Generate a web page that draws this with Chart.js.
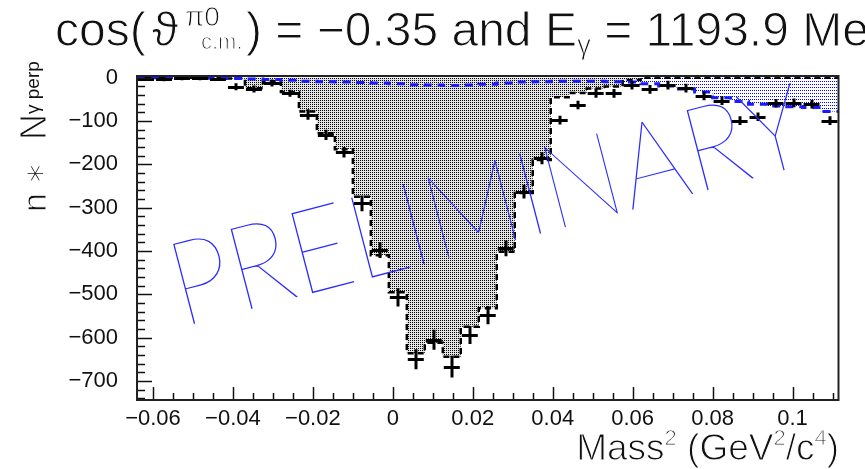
<!DOCTYPE html>
<html>
<head>
<meta charset="utf-8">
<script src="https://cdn.jsdelivr.net/npm/chart.js@4.4.1/dist/chart.umd.min.js"></script>
<style>
  html, body { margin: 0; padding: 0; background: #fff; }
  #massChart { display: block; }
</style>
</head>
<body>
<canvas id="massChart" width="865" height="469"></canvas>
<script>
// missing mass^2 bins (GeV^2/c^4), centres, width 0.0045
const BIN_W = 0.0045;
const massBins = [
  -0.06175, -0.05725, -0.05275, -0.04825, -0.04375, -0.03925, -0.03475, -0.03025,
  -0.02575, -0.02125, -0.01675, -0.01225, -0.00775, -0.00325, 0.00125, 0.00575,
  0.01025, 0.01475, 0.01925, 0.02375, 0.02825, 0.03275, 0.03725, 0.04175,
  0.04625, 0.05075, 0.05525, 0.05975, 0.06425, 0.06875, 0.07325, 0.07775,
  0.08225, 0.08675, 0.09125, 0.09575, 0.10025, 0.10475, 0.10925
];
// measured n * N_perp with errors
const dataYield = [
  -2, -3, -1, -1, -2, -21, -26, -12,
  -36, -85, -132, -172, -290, -398, -507, -650,
  -605, -667, -594, -548, -394, -263, -186, -98,
  -63, -36, -36, -17, -27, -17, -24, -42,
  -53, -99, -90, -59, -58, -61, -99
];
const dataErr = [
  5, 5, 5, 5, 5, 8, 8, 8,
  8, 12, 12, 12, 18, 18, 21, 23,
  23, 25, 21, 21, 18, 16, 14, 10,
  10, 10, 10, 10, 10, 10, 10, 10,
  10, 10, 10, 10, 10, 10, 10
];
// simulated signal (grey)
const simYield = [
  0, 0, 0, 0, 0, -2, -24, -8,
  -33, -78, -128, -165, -275, -410, -495, -636,
  -612, -644, -575, -532, -402, -266, -190, -45,
  -35, -25, -20, -5, 0, 0, 0, 0,
  0, 0, 0, 0, 0, 0, 0
];
// simulated background (blue)
const bgYield = [
  0, 0, 0, -1, -1, -2, -3, -4,
  -6, -8, -9, -10, -11, -12, -14, -16,
  -17, -18, -17, -15, -12, -10, -9, -8,
  -8, -8, -9, -10, -14, -19, -26, -33,
  -46, -55, -61, -65, -67, -69, -78
];

const xTickValues = [-0.06, -0.04, -0.02, 0, 0.02, 0.04, 0.06, 0.08, 0.1];
const xTickLabels = ["\u22120.06", "\u22120.04", "\u22120.02", "0", "0.02", "0.04", "0.06", "0.08", "0.1"];
const yTickValues = [0, -100, -200, -300, -400, -500, -600, -700];
const yTickLabels = ["0", "\u2212100", "\u2212200", "\u2212300", "\u2212400", "\u2212500", "\u2212600", "\u2212700"];
const X_MINOR = 0.005, Y_MINOR = 20;

const TEXT_FONT = '"Liberation Sans", Arial, sans-serif';
const THIN_FONT = 'Roboto, "Liberation Sans", sans-serif';

// histogram outline: one point on every left edge, plus the last right edge
function stepPoints(vals) {
  const pts = massBins.map((c, i) => ({ x: c - BIN_W / 2, y: vals[i] }));
  pts.push({ x: massBins[massBins.length - 1] + BIN_W / 2, y: vals[vals.length - 1] });
  return pts;
}

function dotPattern(color, w, h, rest) {
  const c = document.createElement("canvas");
  c.width = w; c.height = h;
  const g = c.getContext("2d");
  g.fillStyle = rest;
  g.fillRect(0, 0, w, h);
  g.fillStyle = color;
  g.fillRect(0, 0, 1, 1);
  return g.createPattern(c, "repeat");
}

// minor tick values between the major labels
function minorTicks(list, step) {
  const out = [];
  const lo = Math.min(...list), hi = Math.max(...list);
  for (let i = Math.ceil(lo / step) - 2; i <= Math.floor(hi / step) + 4; i++) out.push({ value: +(i * step).toFixed(6) });
  return out;
}

const near = (a, b) => Math.abs(a - b) < 1e-7;
const majorIndex = (list, v) => list.findIndex(t => near(t, v));

// text made of pieces: {t, s: size, dy: raise, at: fixed x, fam, thin}
function richText(ctx, x, y, parts, align) {
  const fontOf = p => `${p.w || 400} ${p.s}px ${p.fam || TEXT_FONT}`;
  let total = 0;
  parts.forEach(p => { ctx.font = fontOf(p); total += ctx.measureText(p.t).width; });
  let cx = align === "right" ? x - total : x;
  parts.forEach(p => {
    if (p.at != null) cx = x + p.at;
    ctx.font = fontOf(p);
    const py = y - (p.dy || 0);
    ctx.fillText(p.t, cx, py);
    // thin the strokes a little with a white outline
    if (p.thin !== false) ctx.strokeText(p.t, cx, py);
    cx += ctx.measureText(p.t).width;
  });
}

const errorBars = {
  id: "errorBars",
  afterDatasetsDraw(chart) {
    const { ctx, chartArea: a, scales: { x, y } } = chart;
    ctx.save();
    ctx.beginPath();
    ctx.rect(a.left, a.top, a.right - a.left, a.bottom - a.top);
    ctx.clip();
    ctx.strokeStyle = "#000";
    ctx.lineWidth = 3;
    ctx.beginPath();
    dataYield.forEach((v, i) => {
      const cx = Math.round(x.getPixelForValue(massBins[i]));
      const xl = x.getPixelForValue(massBins[i] - BIN_W / 2) + 1;
      const xr = x.getPixelForValue(massBins[i] + BIN_W / 2) - 1;
      const py = Math.round(y.getPixelForValue(v)) + 0.5;
      ctx.moveTo(xl, py); ctx.lineTo(xr, py);
      ctx.moveTo(cx, y.getPixelForValue(v + dataErr[i]));
      ctx.lineTo(cx, y.getPixelForValue(v - dataErr[i]));
    });
    ctx.stroke();
    ctx.restore();

    // frame with ticks pointing inwards
    ctx.save();
    ctx.setLineDash([]);
    ctx.strokeStyle = "#111";
    ctx.lineWidth = 1.5;
    ctx.beginPath();
    x.ticks.forEach(t => {
      const px = Math.round(x.getPixelForValue(t.value)) + 0.5;
      if (px < a.left || px > a.right) return;
      const len = majorIndex(xTickValues, t.value) >= 0 ? 13 : 7;
      ctx.moveTo(px, a.bottom); ctx.lineTo(px, a.bottom - len);
    });
    y.ticks.forEach(t => {
      const py = Math.round(y.getPixelForValue(t.value)) + 0.5;
      if (py < a.top || py > a.bottom) return;
      const len = majorIndex(yTickValues, t.value) >= 0 ? 15 : 8;
      ctx.moveTo(a.left, py); ctx.lineTo(a.left + len, py);
    });
    ctx.stroke();
    ctx.lineWidth = 2;
    ctx.strokeStyle = "#222";
    ctx.beginPath();
    ctx.rect(a.left, a.top, a.right - a.left, a.bottom - a.top);
    ctx.stroke();
    ctx.restore();
  }
};

const textLayer = {
  id: "textLayer",
  afterDraw(chart) {
    const { ctx } = chart;
    ctx.save();

    // watermark
    ctx.save();
    ctx.translate(182, 327);
    ctx.rotate(-14.6 * Math.PI / 180);
    ctx.scale(0.9, 1);
    ctx.fillStyle = "#2b2bff";
    ctx.font = `200 118px Lato, ${THIN_FONT}`;
    ctx.fillText("PRELIMINARY", 0, 0);
    ctx.restore();

    ctx.fillStyle = "#111";
    ctx.strokeStyle = "#fff";
    ctx.lineWidth = 1;
    ctx.textBaseline = "alphabetic";

    // title
    richText(ctx, 55, 46, [
      { t: "cos(", s: 48 },
      { t: "\u03d1", s: 48, at: 97 },
      { t: "\u03c00", s: 28, dy: 20, at: 130 },
      { t: "c.m.", s: 22, dy: -3, at: 146 },
      { t: ")", s: 48, at: 191 },
      { t: " = \u22120.35 and E", s: 48 },
      { t: "\u03b3", s: 28, dy: -8 },
      { t: " = 1193.9 MeV", s: 48 }
    ]);

    // x title
    richText(ctx, 839, 460, [
      { t: "Mass", s: 37 }, { t: "2", s: 22, dy: 15 }, { t: " (GeV", s: 37 },
      { t: "2", s: 22, dy: 15 }, { t: "/c", s: 37 }, { t: "4", s: 22, dy: 15 }, { t: ")", s: 37 }
    ], "right");

    // y title, reading upwards
    ctx.save();
    ctx.translate(46, 212);
    ctx.rotate(-Math.PI / 2);
    richText(ctx, 0, 0, [
      { t: "n", s: 34 },
      { t: "\u2217", s: 34, fam: '"DejaVu Sans", sans-serif', w: 300, thin: false, at: 28 },
      { t: "N", s: 36, at: 72 },
      { t: "\u03b3 perp", s: 19, dy: 7, thin: false }
    ]);
    ctx.restore();

    ctx.restore();
  }
};

const pat = {
  grey: dotPattern("#000", 2, 2, "#e2e2e2"),
  blue: dotPattern("#0000ff", 2, 3, "#ffffff")
};

new Chart(document.getElementById("massChart"), {
  type: "line",
  data: {
    datasets: [
      {
        label: "data",
        data: massBins.map((c, i) => ({ x: c, y: dataYield[i] })),
        showLine: false,
        pointRadius: 0,
        order: 1
      },
      {
        label: "background line",
        data: stepPoints(bgYield),
        stepped: "before",
        borderColor: "#1a1aff",
        borderWidth: 3,
        borderDash: [8, 6],
        pointRadius: 0,
        fill: false,
        order: 2
      },
      {
        label: "signal",
        data: stepPoints(simYield),
        stepped: "before",
        borderColor: "#000",
        borderWidth: 2.5,
        borderDash: [6, 4],
        backgroundColor: pat.grey,
        pointRadius: 0,
        fill: "origin",
        order: 3
      },
      {
        label: "background",
        data: stepPoints(bgYield),
        stepped: "before",
        borderWidth: 0,
        borderColor: "rgba(0,0,0,0)",
        backgroundColor: pat.blue,
        pointRadius: 0,
        fill: "origin",
        order: 4
      }
    ]
  },
  options: {
    responsive: false,
    devicePixelRatio: 1,
    animation: false,
    layout: { padding: { left: 0, right: 26.5, top: 76, bottom: 0 } },
    plugins: { legend: { display: false }, tooltip: { enabled: false } },
    scales: {
      x: {
        type: "linear",
        min: -0.064,
        max: 0.1115,
        grid: { display: false, drawTicks: false },
        border: { display: false },
        afterFit: s => { s.height = 69; },
        afterBuildTicks: s => { s.ticks = minorTicks(xTickValues, X_MINOR).filter(t => t.value >= s.min && t.value <= s.max); },
        ticks: {
          autoSkip: false,
          maxRotation: 0,
          padding: 6,
          color: "#111",
          font: { family: TEXT_FONT, size: 22 },
          callback: v => { const k = majorIndex(xTickValues, v); return k >= 0 ? xTickLabels[k] : ""; }
        }
      },
      y: {
        min: -744,
        max: 4,
        grid: { display: false, drawTicks: false },
        border: { display: false },
        afterFit: s => { s.width = 137; },
        afterBuildTicks: s => { s.ticks = minorTicks(yTickValues, Y_MINOR).filter(t => t.value >= s.min && t.value <= s.max); },
        ticks: {
          autoSkip: false,
          padding: 19,
          color: "#111",
          font: { family: TEXT_FONT, size: 22 },
          callback: v => { const k = majorIndex(yTickValues, v); return k >= 0 ? yTickLabels[k] : ""; }
        }
      }
    }
  },
  plugins: [errorBars, textLayer]
});
</script>
</body>
</html>
